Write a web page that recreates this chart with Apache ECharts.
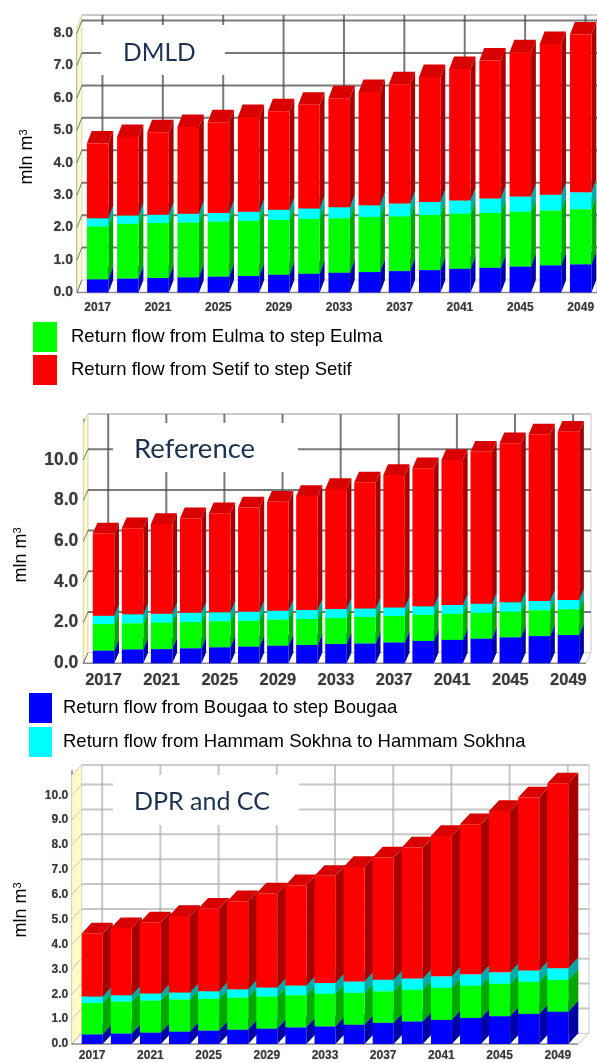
<!DOCTYPE html>
<html><head><meta charset="utf-8">
<style>html,body{margin:0;padding:0;background:#fff}#c{width:597px;height:1063px}</style>
<script src="https://cdn.jsdelivr.net/npm/echarts@6/dist/echarts.min.js"></script>
</head><body><div id="c"></div>
<script>
const years = [2017,2019,2021,2023,2025,2027,2029,2031,2033,2035,2037,2039,2041,2043,2045,2047,2049].map(String);

const dmldBlue  = [.41,.43,.45,.47,.49,.51,.55,.58,.61,.63,.66,.69,.73,.76,.80,.84,.87];
const dmldGreen = [1.63,1.69,1.69,1.69,1.70,1.70,1.69,1.69,1.68,1.70,1.69,1.70,1.70,1.69,1.69,1.69,1.70];
const dmldCyan  = [.25,.25,.26,.27,.26,.28,.31,.32,.34,.36,.39,.40,.41,.45,.47,.48,.52];
const dmldRed   = [2.30,2.42,2.54,2.67,2.80,2.92,3.04,3.20,3.36,3.49,3.68,3.85,4.05,4.25,4.45,4.65,4.86];

const refBlue  = [.62,.69,.70,.74,.79,.82,.87,.90,.95,.98,1.03,1.10,1.15,1.21,1.28,1.34,1.39];
const refGreen = [1.31,1.28,1.30,1.29,1.28,1.28,1.28,1.28,1.28,1.30,1.30,1.28,1.28,1.27,1.26,1.27,1.27];
const refCyan  = [.41,.44,.44,.45,.44,.44,.44,.44,.44,.42,.42,.42,.44,.45,.46,.46,.45];
const refRed   = [4.05,4.23,4.41,4.65,4.87,5.12,5.36,5.61,5.90,6.20,6.51,6.79,7.13,7.48,7.82,8.19,8.28];

const dprBlue  = [.39,.42,.46,.50,.54,.58,.62,.67,.71,.78,.85,.91,.97,1.05,1.12,1.21,1.30];
const dprGreen = [1.26,1.29,1.29,1.29,1.27,1.29,1.29,1.29,1.31,1.28,1.27,1.27,1.29,1.29,1.30,1.29,1.28];
const dprCyan  = [.26,.25,.28,.28,.31,.33,.36,.39,.43,.45,.46,.45,.46,.46,.46,.46,.47];
const dprRed   = [2.53,2.70,2.86,3.08,3.32,3.54,3.78,4.03,4.31,4.61,4.92,5.27,5.64,6.04,6.49,6.95,7.43];

const NAME_BLUE  = 'Return flow from Bougaa to step Bougaa';
const NAME_CYAN  = 'Return flow from Hammam Sokhna to Hammam Sokhna';
const NAME_GREEN = 'Return flow from Eulma to step Eulma';
const NAME_RED   = 'Return flow from Setif to step Setif';

const palette = [
  {name:NAME_BLUE,  front:'#0000ff', side:'#0000a8', top:'#0000d0'},
  {name:NAME_GREEN, front:'#00ff00', side:'#00a800', top:'#00d000'},
  {name:NAME_CYAN,  front:'#00ffff', side:'#00a8a8', top:'#00d0d0'},
  {name:NAME_RED,   front:'#ff0000', side:'#a80000', top:'#d80000'}
];

const panels = [
  {title:'DMLD', values:[dmldBlue,dmldGreen,dmldCyan,dmldRed], max:8, interval:1,
   left:82.55, width:515.1, top:33, height:259.5, axisGap:5.55, barW:21.5, dx:4.8, dy:-12.5,
   gridColor:'rgba(70,70,70,.72)', wallTop:15, frontRight:597, backRight:597,
   yFont:14, xFont:12, yMargin:4, xMargin:9,
   box:[101,25,124,50], titleX:123, titleY:53, titleSize:24.5, unitX:27, unitY:157},
  {title:'Reference', values:[refBlue,refGreen,refCyan,refRed], max:12, interval:2,
   left:88.97, width:494, top:419.3, height:244, axisGap:5.7, barW:21.5, dx:4.7, dy:-10.7,
   gridColor:'rgba(70,70,70,.72)', wallTop:414, frontRight:586, backRight:591,
   yFont:17.5, xFont:16.5, yMargin:5, xMargin:9,
   box:[113,423,185,49], titleX:134, titleY:449, titleSize:27.5, unitX:21, unitY:555},
  {title:'DPR and CC', values:[dprBlue,dprGreen,dprCyan,dprRed], max:11, interval:1,
   left:77.65, width:494.7, top:770.4, height:273.6, axisGap:6, barW:21, dx:10, dy:-10.7,
   gridColor:'rgba(175,175,175,.7)', wallTop:765, frontRight:578, backRight:589,
   yFont:12, xFont:12, yMargin:3.5, xMargin:6,
   box:[113,775,186,50], titleX:134, titleY:802, titleSize:25, unitX:21, unitY:910}
];

const labelStyle = {color:'#3a3a3a', fontFamily:'Liberation Sans', fontWeight:'bold',
                    textShadowColor:'rgba(60,60,60,.6)', textShadowBlur:1};

function barRenderer(p, c){
  return function(params, api){
    const lo = api.coord([api.value(0), api.value(1)]);
    const hi = api.coord([api.value(0), api.value(2)]);
    const x0 = lo[0]-p.barW/2, x1 = lo[0]+p.barW/2, dx=p.dx, dy=p.dy;
    return {type:'group', children:[
      {type:'polygon', shape:{points:[[x1,lo[1]],[x1+dx,lo[1]+dy],[x1+dx,hi[1]+dy],[x1,hi[1]]]}, style:{fill:c.side}},
      {type:'polygon', shape:{points:[[x0,hi[1]],[x1,hi[1]],[x1+dx,hi[1]+dy],[x0+dx,hi[1]+dy]]}, style:{fill:c.top}},
      {type:'rect', shape:{x:x0,y:hi[1],width:p.barW,height:lo[1]-hi[1]}, style:{fill:c.front}}
    ]};
  };
}

function frameRenderer(p){
  return function(params, api){
    const g = params.coordSys, axisX = g.x-p.axisGap, backX = axisX+p.dx;
    const dy = p.dy, kids = [];
    const base = api.coord([0,0])[1];
    const line = (a,b,c,w)=>kids.push({type:'line',shape:{x1:a[0],y1:a[1],x2:b[0],y2:b[1]},style:{stroke:c,lineWidth:w}});
    const edge = 'rgba(190,190,190,.8)';
    kids.push({type:'polygon',shape:{points:[[axisX,base],[backX,base+dy],[backX,p.wallTop],[axisX,p.wallTop-dy]]},style:{fill:'#fffbc8',stroke:'#d8d8b0',lineWidth:1}});
    line([backX,p.wallTop],[p.backRight,p.wallTop],edge,2);
    line([p.backRight,p.wallTop],[p.backRight,base+dy],edge,1);
    line([backX,base+dy],[p.backRight,base+dy],edge,1);
    line([p.frontRight,base],[p.backRight,base+dy],edge,1);
    for(let v=0;v<=p.max;v+=p.interval){
      const y = api.coord([0,v])[1];
      if(v>0 && !(v===p.max && p.max!==8)) line([backX,y+dy],[p.backRight,y+dy],p.gridColor,2);
      if(!(v===p.max && p.max!==8)) line([axisX,y],[backX,y+dy],p.gridColor,1);
    }
    years.forEach((yr,i)=>{
      if(i%2) return;
      const x = api.coord([i,0])[0]+p.dx;
      line([x,p.wallTop],[x,base+dy],p.gridColor,2);
    });
    line([axisX,base],[p.frontRight,base],'#8a8a8a',1.5);
    return {type:'group',children:kids};
  };
}

const grid=[], xAxis=[], yAxis=[], series=[], graphic=[];
panels.forEach((p,k)=>{
  grid.push({left:p.left, top:p.top, width:p.width, height:p.height, containLabel:false});
  xAxis.push({type:'category', gridIndex:k, data:years, boundaryGap:true,
    axisLine:{show:false}, axisTick:{show:false}, splitLine:{show:false},
    axisLabel:Object.assign({}, labelStyle, {interval:1, fontSize:p.xFont, margin:p.xMargin, hideOverlap:false})});
  yAxis.push({type:'value', gridIndex:k, min:0, max:p.max, interval:p.interval, offset:p.axisGap,
    axisLine:{show:true, lineStyle:{color:'#8a8a8a', width:1.5}}, axisTick:{show:false}, splitLine:{show:false},
    axisLabel:Object.assign({}, labelStyle, {fontSize:p.yFont, margin:p.yMargin, showMaxLabel:p.max===8,
      formatter:v=>v.toFixed(1)})});
  series.push({type:'custom', name:'frame'+k, xAxisIndex:k, yAxisIndex:k, z:1, silent:true,
    renderItem:frameRenderer(p), data:[[years[0],0]], encode:{x:0,y:1}});
  const sum = years.map(()=>0);
  p.values.forEach((vals,j)=>{
    const data = vals.map((v,i)=>{const lo=sum[i]; sum[i]=+(lo+v).toFixed(2); return [years[i],lo,sum[i]];});
    series.push({type:'custom', name:palette[j].name, xAxisIndex:k, yAxisIndex:k, z:3+j, silent:true,
      itemStyle:{color:palette[j].front}, renderItem:barRenderer(p,palette[j]), data, encode:{x:0,y:[1,2]}});
  });
  graphic.push({type:'rect', z:2, silent:true, shape:{x:p.box[0],y:p.box[1],width:p.box[2],height:p.box[3]}, style:{fill:'#fff'}});
  graphic.push({type:'text', z:10, silent:true, x:p.titleX, y:p.titleY,
    style:{text:p.title, fill:'#1d3150', font:p.titleSize+'px Lato', align:'left', verticalAlign:'middle'}});
  graphic.push({type:'text', z:10, silent:true, x:p.unitX, y:p.unitY, rotation:Math.PI/2,
    style:{text:'{a|mln m}{s|3}', align:'center', verticalAlign:'middle',
      rich:{a:{font:'18px Liberation Sans', fill:'#000', color:'#000'},
            s:{font:'11px Liberation Sans', fill:'#000', color:'#000', verticalAlign:'top', padding:[0,0,7,0]}}}});
});

const legendText = {fontFamily:'Liberation Sans', fontSize:18.5, color:'#000'};
const option = {
  animation:false, backgroundColor:'#fff', grid, xAxis, yAxis, series,
  graphic:{elements:graphic},
  legend:[
    {left:33, top:322, padding:0, orient:'vertical', icon:'rect', selectedMode:false, itemWidth:24, itemHeight:30, itemGap:3, textStyle:Object.assign({padding:[0,0,0,9]},legendText), data:[NAME_GREEN,NAME_RED]},
    {left:29, top:693, padding:0, orient:'vertical', icon:'rect', selectedMode:false, itemWidth:23, itemHeight:30, itemGap:4, textStyle:Object.assign({padding:[0,0,0,6]},legendText), data:[NAME_BLUE,NAME_CYAN]}
  ]
};
echarts.init(document.getElementById('c'),null,{renderer:'canvas'}).setOption(option);
</script></body></html>
